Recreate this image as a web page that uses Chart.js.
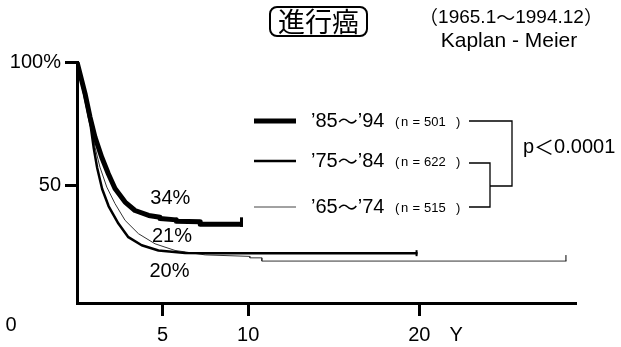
<!DOCTYPE html>
<html>
<head>
<meta charset="utf-8">
<script src="https://cdn.jsdelivr.net/npm/chart.js@4/dist/chart.umd.min.js"></script>
<style>
html, body { margin: 0; padding: 0; background: #fff; }
canvas { display: block; }
</style>
</head>
<body>
<canvas id="km" width="621" height="347"></canvas>
<script>
// Kaplan-Meier, years after surgery vs survival (%)
var years8594 = [0, 0.47, 0.76, 1.05, 1.44, 1.83, 2.22, 2.81, 3.39, 4.19, 4.85, 4.85, 5.8, 5.8, 7.2, 7.2, 9.7];
var surv8594  = [100, 87.2, 77.7, 69.6, 61.5, 54.7, 48.7, 43.2, 39.8, 37.8, 37.1, 36.6, 36.0, 35.4, 35.2, 34.2, 34.2];

var years7584 = [0, 0.3, 0.6, 0.8, 0.98, 1.18, 1.47, 1.85, 2.42, 3.0, 3.78, 4.76, 6.32, 8, 19.9];
var surv7584  = [100, 91, 81, 74, 65, 57, 48.5, 41.5, 34.5, 29, 25.7, 23.6, 22.6, 22.5, 22.5];

var years6574 = [0, 0.3, 0.6, 0.86, 1.05, 1.34, 1.74, 2.22, 2.81, 3.59, 4.56, 5.73, 7.49, 10.1, 10.1, 10.8, 10.8, 28.6];
var surv6574  = [100, 92, 82, 73.6, 65.5, 57.4, 49.3, 42.6, 35.8, 30.4, 26.3, 23.6, 21.8, 21.2, 20.6, 20.6, 19.3, 19.3];

var periods = ["’85～’94", "’75～’84", "’65～’74"];
var counts = ["501", "622", "515"];
var rates = ["34%", "21%", "20%"];
var xTickValues = [5, 10, 20];
var yTickValues = [50, 100];

var LATIN = '"Liberation Sans", Arial, sans-serif';
var CJK = '"Noto Sans CJK JP", sans-serif';

function toPoints(xs, ys) {
	var pts = [];
	for (var i = 0; i < xs.length; i++) pts.push({x: xs[i], y: ys[i]});
	return pts;
}

// draws a run of text pieces with mixed fonts, left aligned from x
function drawParts(ctx, x, y, parts) {
	ctx.textBaseline = 'middle';
	ctx.textAlign = 'left';
	for (var i = 0; i < parts.length; i++) {
		ctx.font = parts[i][1];
		ctx.fillText(parts[i][0], x, y);
		x += ctx.measureText(parts[i][0]).width;
	}
	return x;
}
function partsWidth(ctx, parts) {
	var w = 0;
	for (var i = 0; i < parts.length; i++) {
		ctx.font = parts[i][1];
		w += ctx.measureText(parts[i][0]).width;
	}
	return w;
}

var decorations = {
	id: 'decorations',
	afterDatasetsDraw: function(chart) {
		var ctx = chart.ctx;
		var xs = chart.scales.x, ys = chart.scales.y;
		ctx.save();
		ctx.fillStyle = '#000';
		ctx.strokeStyle = '#000';

		// censor marks at the end of each curve
		var marks = [[3, 7, 2.5], [2, 3, 3], [1, 6, 0]];
		for (var i = 0; i < 3; i++) {
			var meta = chart.getDatasetMeta(i);
			var last = meta.data[meta.data.length - 1];
			ctx.lineWidth = marks[i][0];
			ctx.beginPath();
			ctx.moveTo(last.x - marks[i][0] / 2, last.y - marks[i][1]);
			ctx.lineTo(last.x - marks[i][0] / 2, last.y + marks[i][2]);
			ctx.stroke();
		}

		// rate labels near the curves
		ctx.font = '20px ' + LATIN;
		ctx.textAlign = 'center';
		ctx.textBaseline = 'middle';
		ctx.fillText(rates[0], xs.getPixelForValue(5.45), ys.getPixelForValue(44.5));
		ctx.fillText(rates[1], xs.getPixelForValue(5.55), ys.getPixelForValue(29.1));
		ctx.fillText(rates[2], xs.getPixelForValue(5.4), ys.getPixelForValue(14.9));

		// origin and axis unit
		ctx.fillText('0', 11, 325);
		ctx.fillText('Y', xs.getPixelForValue(20) + 37, 335);

		// title box
		ctx.lineWidth = 2;
		ctx.beginPath();
		ctx.roundRect(270, 7, 97, 29, 7);
		ctx.stroke();
		ctx.font = '27px ' + CJK;
		ctx.fillText('進行癌', 318.5, 22);

		var small = '19px ' + LATIN, smallJ = '19px ' + CJK;
		var period = [['（', smallJ], ['1965.1', small], ['～', smallJ], ['1994.12', small], ['）', smallJ]];
		drawParts(ctx, 511 - partsWidth(ctx, period) / 2, 18, period);
		ctx.font = '21px ' + LATIN;
		ctx.textAlign = 'center';
		ctx.fillText('Kaplan - Meier', 509, 41);

		// legend
		var rowY = [121, 161, 207];
		var rowW = [5, 2.5, 1];
		for (var r = 0; r < 3; r++) {
			ctx.lineWidth = rowW[r];
			ctx.strokeStyle = r == 2 ? '#444' : '#000';
			ctx.beginPath();
			ctx.moveTo(254, rowY[r]);
			ctx.lineTo(296, rowY[r]);
			ctx.stroke();
			var p = periods[r];
			var parts = [[p.slice(0, 3), '20px ' + LATIN], ['～', '20px ' + CJK], [p.slice(4), '20px ' + LATIN]];
			drawParts(ctx, 311, rowY[r], parts);
			ctx.font = '13px ' + LATIN;
			var nx = 395;
			ctx.fillText('(', nx, rowY[r] + 1);
			ctx.fillText('n', nx + 6, rowY[r] + 1);
			ctx.fillText('=', nx + 17.5, rowY[r] + 1);
			ctx.fillText(counts[r], nx + 29, rowY[r] + 1);
			ctx.fillText(')', nx + 61, rowY[r] + 1);
		}

		// brackets
		ctx.strokeStyle = '#000';
		ctx.lineWidth = 1.3;
		ctx.beginPath();
		ctx.moveTo(469, 163); ctx.lineTo(490, 163); ctx.lineTo(490, 207); ctx.lineTo(469, 207);
		ctx.moveTo(469, 121); ctx.lineTo(512, 121); ctx.lineTo(512, 186); ctx.lineTo(490, 186);
		ctx.stroke();

		drawParts(ctx, 523, 147, [['p', '20px ' + LATIN], ['＜', '20px ' + CJK], ['0.0001', '20px ' + LATIN]]);
		ctx.restore();
	}
};

var ctx = document.getElementById('km').getContext('2d');

var kmChart = new Chart(ctx, {
	type: 'line',
	data: {
		datasets: [
			{label: periods[0], data: toPoints(years8594, surv8594), borderWidth: 5},
			{label: periods[1], data: toPoints(years7584, surv7584), borderWidth: 2.5},
			{label: periods[2], data: toPoints(years6574, surv6574), borderWidth: 1, borderColor: '#333'}
		]
	},
	options: {
		responsive: false,
		animation: false,
		devicePixelRatio: 1,
		borderColor: '#000',
		elements: {
			line: {tension: 0, borderColor: '#000', borderJoinStyle: 'round', fill: false},
			point: {radius: 0, hoverRadius: 0}
		},
		layout: {padding: {top: 62, right: 46, left: 0, bottom: 0}},
		plugins: {legend: {display: false}, tooltip: {enabled: false}},
		scales: {
			x: {
				type: 'linear',
				min: 0,
				max: 29.1,
				afterBuildTicks: function(s) { s.ticks = xTickValues.map(function(v) { return {value: v}; }); },
				afterFit: function(s) { s.height = 44; },
				grid: {drawOnChartArea: false, drawTicks: true, tickLength: 13, lineWidth: 3, color: '#000'},
				border: {display: true, width: 3, color: '#000'},
				ticks: {color: '#000', padding: 7, maxRotation: 0, autoSkip: false, font: {family: LATIN, size: 20}}
			},
			y: {
				type: 'linear',
				min: 2.3,
				max: 100,
				afterBuildTicks: function(s) { s.ticks = yTickValues.map(function(v) { return {value: v}; }); },
				afterFit: function(s) { s.width = 77; },
				grid: {drawOnChartArea: false, drawTicks: true, tickLength: 12, lineWidth: 3, color: '#000'},
				border: {display: true, width: 3, color: '#000'},
				ticks: {
					color: '#000', padding: 4, autoSkip: false, font: {family: LATIN, size: 20},
					callback: function(v) { return v == 100 ? '100%' : String(v); }
				}
			}
		}
	},
	plugins: [decorations]
});
</script>
</body>
</html>
